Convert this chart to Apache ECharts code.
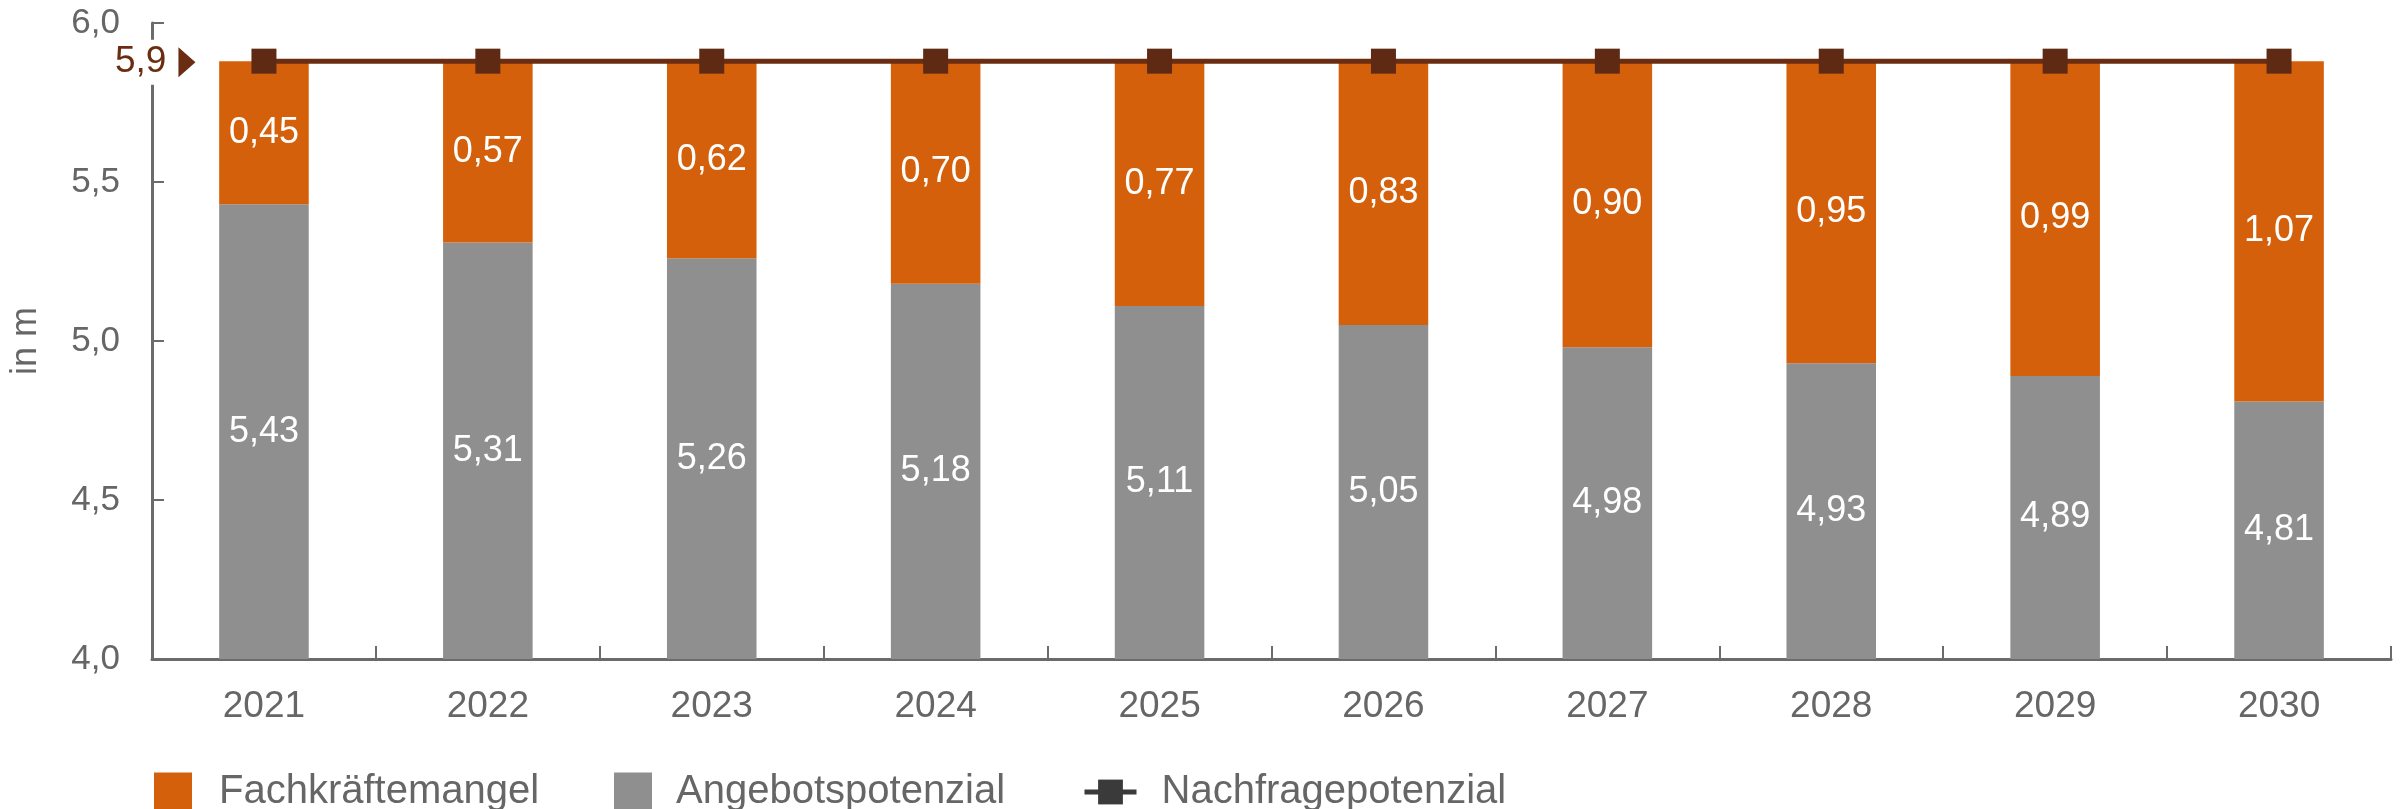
<!DOCTYPE html>
<html>
<head>
<meta charset="utf-8">
<script src="https://cdn.jsdelivr.net/npm/echarts@6/dist/echarts.min.js"></script>
<style>
html,body{margin:0;padding:0;background:#fff;}
#chart{width:2405px;height:809px;}
</style>
</head>
<body>
<div id="chart"></div>
<script>
const categories = ['2021','2022','2023','2024','2025','2026','2027','2028','2029','2030'];
const angebot = [5.43,5.31,5.26,5.18,5.11,5.05,4.98,4.93,4.89,4.81];
const mangel = [0.45,0.57,0.62,0.70,0.77,0.83,0.90,0.95,0.99,1.07];
const nachfrage = [5.88,5.88,5.88,5.88,5.88,5.88,5.88,5.88,5.88,5.88];
const yTicks = {min:4.0, max:6.0, interval:0.5};

const FONT = '"Liberation Sans", Arial, Helvetica, sans-serif';
const ORANGE = '#D5600B';
const GRAY = '#8F8F8F';
const BROWN = '#6B2D12';
const TEXT = '#666666';

const fmt = (v, d) => v.toFixed(d).replace('.', ',');

const legendText = pad => ({fontFamily: FONT, fontSize: 40, lineHeight: 40, color: TEXT, padding: [0,0,0,pad]});

const chart = echarts.init(document.getElementById('chart'));
chart.setOption({
  backgroundColor: '#ffffff',
  animation: false,
  textStyle: {fontFamily: FONT},
  grid: {left: 152, right: 14, top: 23, bottom: 150, containLabel: false},
  legend: [
    {data: ['Fachkräftemangel'], left: 149, top: 767, itemWidth: 38, itemHeight: 39, icon: 'rect',
     textStyle: legendText(22)},
    {data: ['Angebotspotenzial'], left: 609, top: 767, itemWidth: 38, itemHeight: 39, icon: 'rect',
     textStyle: legendText(19)},
    {data: [{name: 'Nachfragepotenzial', itemStyle: {color: '#3a3a3a'}, lineStyle: {color: '#3a3a3a', width: 5}}],
     left: 1077, top: 767, itemWidth: 52, itemHeight: 31,
     textStyle: legendText(20)}
  ],
  xAxis: {
    type: 'category',
    data: categories,
    boundaryGap: true,
    axisLine: {show: true, lineStyle: {color: '#6b6b6b', width: 3}},
    axisTick: {show: true, inside: true, length: 13, lineStyle: {color: '#6b6b6b', width: 2}},
    axisLabel: {color: TEXT, fontSize: 37, fontFamily: FONT, margin: 29},
    splitLine: {show: false}
  },
  yAxis: {
    type: 'value',
    min: yTicks.min, max: yTicks.max, interval: yTicks.interval,
    name: 'in m',
    nameLocation: 'middle',
    nameGap: 108,
    nameTextStyle: {color: TEXT, fontSize: 36, fontFamily: FONT},
    axisLine: {show: true, lineStyle: {color: '#6b6b6b', width: 3}},
    axisTick: {show: true, inside: true, length: 12, lineStyle: {color: '#6b6b6b', width: 2}},
    axisLabel: {color: TEXT, fontSize: 35, fontFamily: FONT, margin: 32, padding: [10, 0, 0, 0],
                formatter: v => fmt(v, 1)},
    splitLine: {show: false}
  },
  series: [
    {
      name: 'Angebotspotenzial', type: 'bar', stack: 'total', data: angebot,
      barWidth: '40%', itemStyle: {color: GRAY},
      label: {show: true, position: 'inside', color: '#fff', fontSize: 36, fontFamily: FONT,
              formatter: p => fmt(p.value, 2)}
    },
    {
      name: 'Fachkräftemangel', type: 'bar', stack: 'total', data: mangel,
      barWidth: '40%', itemStyle: {color: ORANGE},
      label: {show: true, position: 'inside', color: '#fff', fontSize: 36, fontFamily: FONT,
              formatter: p => fmt(p.value, 2)}
    },
    {
      name: 'Nachfragepotenzial', type: 'line', data: nachfrage, clip: false, z: 5,
      symbol: 'rect', symbolSize: 25,
      itemStyle: {color: '#5E2A14'},
      lineStyle: {color: BROWN, width: 5},
      markPoint: {
        silent: true,
        data: [{
          coord: [0, nachfrage[0]],
          symbol: 'triangle', symbolRotate: -90, symbolSize: [30, 17], symbolOffset: [-77, 1],
          itemStyle: {color: BROWN},
          label: {show: true, position: 'left', distance: 10, formatter: fmt(nachfrage[0], 1),
                  color: BROWN, fontSize: 37, fontFamily: FONT,
                  backgroundColor: '#ffffff', padding: [6, 2, 2, 2]}
        }]
      }
    }
  ]
});
</script>
</body>
</html>
